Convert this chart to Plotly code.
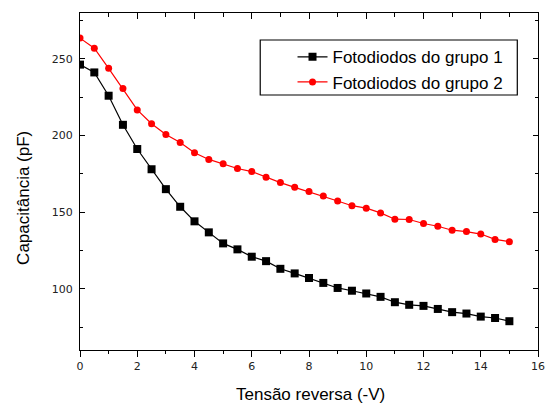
import plotly.graph_objects as go

x_vals = [0, 0.5, 1, 1.5, 2, 2.5, 3, 3.5, 4, 4.5, 5, 5.5, 6, 6.5, 7, 7.5, 8, 8.5, 9, 9.5,
          10, 10.5, 11, 11.5, 12, 12.5, 13, 13.5, 14, 14.5, 15]
grupo1 = [246.3, 241.2, 226.0, 207.0, 191.2, 178.0, 165.0, 153.5, 144.0, 136.8, 129.6, 125.7,
          120.9, 118.0, 113.0, 110.0, 107.0, 103.8, 100.5, 98.7, 96.9, 94.7, 91.2, 89.5, 88.8,
          86.8, 84.7, 83.8, 81.8, 80.9, 78.8]
grupo2 = [263.6, 257.0, 243.9, 230.7, 216.7, 207.7, 200.7, 195.4, 188.8, 184.4, 181.6, 178.5,
          176.5, 172.8, 169.3, 166.2, 163.4, 160.5, 157.3, 154.2, 152.6, 149.5, 145.4, 145.2,
          142.6, 140.8, 138.2, 137.3, 135.7, 132.2, 130.7]
series_names = ["Fotodiodos do grupo 1", "Fotodiodos do grupo 2"]
x_title = "Tensão reversa (-V)"
y_title = "Capacitância (pF)"

fig = go.Figure()
fig.add_trace(go.Scatter(x=x_vals, y=grupo1, name=series_names[0], mode="lines+markers",
                         line=dict(color="black", width=1.2),
                         marker=dict(symbol="square", size=8, color="black")))
fig.add_trace(go.Scatter(x=x_vals, y=grupo2, name=series_names[1], mode="lines+markers",
                         line=dict(color="#ff0000", width=1.2),
                         marker=dict(symbol="circle", size=7, color="#ff0000")))
fig.add_trace(go.Scatter(x=[], y=[], xaxis="x2", showlegend=False, hoverinfo="skip"))

tickfont = dict(family="DejaVu Sans", size=11, color="#222")
fig.update_layout(
    width=554, height=403,
    margin=dict(l=80, r=9, t=13, b=53),
    paper_bgcolor="white", plot_bgcolor="white",
    font=dict(family="Liberation Sans, Arial", color="black"),
    showlegend=True,
    legend=dict(x=0.464, y=0.922, xanchor="left", yanchor="top",
                borderwidth=0, bgcolor="rgba(0,0,0,0)",
                font=dict(family="Liberation Sans, Arial", size=17),
                tracegroupgap=0),
    shapes=[dict(type="rect", xref="paper", yref="paper", x0=0.3935, x1=0.9548,
                 y0=0.7567, y1=0.9199, line=dict(color="black", width=1.2),
                 fillcolor="rgba(0,0,0,0)", layer="above")],
    xaxis=dict(range=[0, 16], dtick=2, tick0=0, showline=True, linecolor="black", linewidth=1.2,
               ticks="outside", ticklen=6, tickcolor="black", tickwidth=1.2,
               minor=dict(dtick=1, ticks="outside", ticklen=3, tickcolor="black", tickwidth=1.2),
               showgrid=False, zeroline=False, tickfont=tickfont),
    xaxis2=dict(range=[0, 16], dtick=2, tick0=0, overlaying="x", side="top", anchor="y",
                showline=True, linecolor="black", linewidth=1.2,
                ticks="inside", ticklen=6, tickcolor="black", tickwidth=1.2,
                minor=dict(dtick=1, ticks="inside", ticklen=4, tickcolor="black", tickwidth=1.2),
                showticklabels=False, showgrid=False, zeroline=False),
    yaxis=dict(range=[60, 280], dtick=50, tick0=0, showline=True, linecolor="black", linewidth=1.2,
               mirror="ticks", ticks="inside", ticklen=5, tickcolor="black", tickwidth=1.2,
               minor=dict(dtick=25, ticks="inside", ticklen=3, tickcolor="black", tickwidth=1.2),
               showgrid=False, zeroline=False, tickfont=tickfont, ticklabelstandoff=4),
    annotations=[
        dict(text=x_title, xref="paper", yref="paper", x=0.503, y=-0.1306,
             xanchor="center", yanchor="middle", showarrow=False,
             font=dict(family="Liberation Sans, Arial", size=17)),
        dict(text=y_title, xref="paper", yref="paper", x=-0.1247, y=0.451,
             xanchor="center", yanchor="middle", showarrow=False, textangle=-90,
             font=dict(family="Liberation Sans, Arial", size=17)),
    ],
)

fig.write_html("out.html", config={"displayModeBar": False},
               post_script="document.body.style.margin='0';")
